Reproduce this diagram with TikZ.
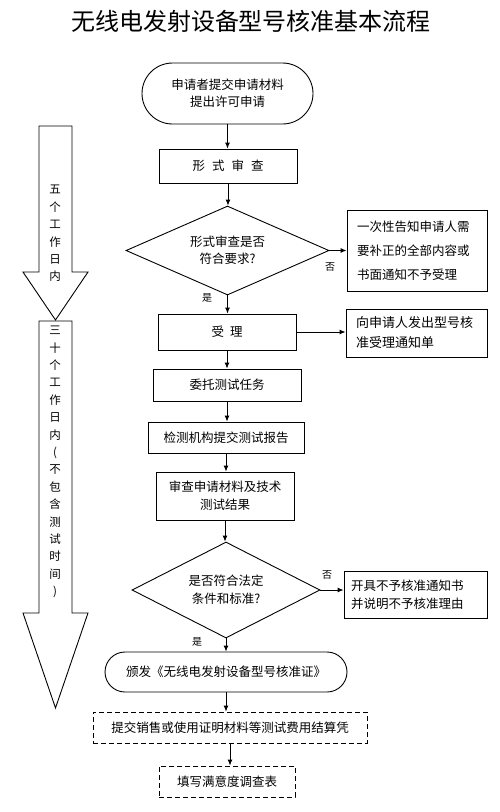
\documentclass[tikz,border=0pt]{standalone}
\usepackage{fontspec}
\setmainfont{Liberation Serif}
\newfontfamily\cjk{Noto Sans CJK SC}
\usetikzlibrary{arrows.meta,shapes.geometric,shapes.misc}
\begin{document}
\begin{tikzpicture}[x=1pt,y=-1pt,
  every node/.style={font=\cjk\fontsize{12.5}{17}\selectfont, inner sep=0pt},
  box/.style={draw, line width=0.9pt, rectangle, align=center},
  sidebox/.style={draw, line width=0.9pt, rectangle, align=left},
  decide/.style={draw, line width=0.9pt, diamond, align=center},
  term/.style={draw, line width=0.9pt, rounded rectangle, align=center},
  dbox/.style={draw, line width=0.9pt, dash pattern=on 5pt off 3pt, rectangle, align=center},
  flow/.style={line width=0.9pt, -{Latex[length=6pt,width=5pt]}},
  lbl/.style={font=\cjk\fontsize{10}{12}\selectfont},
  bigarrow/.style={draw, line width=0.9pt, fill=white},
  vtext/.style={align=center, font=\cjk\fontsize{11.5}{17.4}\selectfont}
]
\useasboundingbox (0,0) rectangle (500,812);
\fill[white] (0,0) rectangle (500,812);

% title
\node[font=\cjk\fontsize{24}{26}\selectfont] (title) at (251,21) {无线电发射设备型号核准基本流程};

% left arrows
\draw[bigarrow] (39,126) -- (72,126) -- (72,272) -- (88,272) -- (55.5,320) -- (23,272) -- (39,272) -- cycle;
\draw[bigarrow] (39,321) -- (72,321) -- (72,613) -- (88,613) -- (55.5,708) -- (23,613) -- (39,613) -- cycle;
\node[vtext] (five) at (55,233.5) {五\\个\\工\\作\\日\\内};
\node[vtext] (thirty) at (55,462) {三\\十\\个\\工\\作\\日\\内\\(\\不\\包\\含\\测\\试\\时\\间\\)};

% main flow
\node[term, minimum width=171pt, minimum height=61pt] (start) at (227.5,93.5) {申请者提交申请材料\\提出许可申请};
\node[box, minimum width=138pt, minimum height=34pt] (form) at (228,166) {形\hspace{7pt}式\hspace{7pt}审\hspace{7pt}查};
\node[decide, minimum width=203pt, minimum height=89pt, aspect=2.28] (d1) at (227.5,250.5) {形式审查是否\\符合要求?};
\node[sidebox, minimum width=140pt, minimum height=81pt, text width=120pt, font=\cjk\fontsize{12.5}{24}\selectfont] (r1) at (417,250.5) {一次性告知申请人需\\要补正的全部内容或\\书面通知不予受理};
\node[box, minimum width=138pt, minimum height=36pt] (accept) at (227,332) {受\hspace{6pt}理};
\node[sidebox, minimum width=141pt, minimum height=48pt, text width=121pt, font=\cjk\fontsize{13}{20}\selectfont] (r2) at (416.5,333) {向申请人发出型号核\\准受理通知单};
\node[box, minimum width=148pt, minimum height=32pt] (entrust) at (227,385) {委托测试任务};
\node[box, minimum width=156pt, minimum height=31pt] (report) at (226,437.5) {检测机构提交测试报告};
\node[box, minimum width=138pt, minimum height=48pt, font=\cjk\fontsize{12.5}{18}\selectfont] (review) at (225,496) {审查申请材料及技术\\测试结果};
\node[decide, minimum width=188pt, minimum height=96pt, aspect=1.96, font=\cjk\fontsize{12.5}{18}\selectfont] (d2) at (226,590) {是否符合法定\\条件和标准?};
\node[sidebox, minimum width=143pt, minimum height=47pt, text width=129pt, font=\cjk\fontsize{12.5}{18}\selectfont] (r3) at (415.5,594.5) {开具不予核准通知书\\并说明不予核准理由};
\node[term, minimum width=242pt, minimum height=40pt] (issue) at (226,672) {颁发《无线电发射设备型号核准证》};
\node[dbox, minimum width=274pt, minimum height=31pt] (submit) at (230,727.5) {提交销售或使用证明材料等测试费用结算凭};
\node[dbox, minimum width=136pt, minimum height=31pt] (survey) at (227,781.5) {填写满意度调查表};

% connectors
\draw[flow] (start.south) -- (start.south |- form.north);
\draw[flow] (form.south) -- (form.south |- d1.north);
\draw[flow] (d1.east) -- (d1.east -| r1.west);
\draw[flow] (d1.south) -- (d1.south |- accept.north);
\draw[flow] (accept.east) -- (accept.east -| r2.west);
\draw[flow] (accept.south) -- (accept.south |- entrust.north);
\draw[flow] (entrust.south) -- (entrust.south |- report.north);
\draw[flow] (report.south) -- (report.south |- review.north);
\draw[flow] (review.south) -- (review.south |- d2.north);
\draw[flow] (d2.east) -- (d2.east -| r3.west);
\draw[flow] (d2.south) -- (d2.south |- issue.north);
\draw[flow] (issue.south) -- (issue.south |- submit.north);
\draw[flow] (submit.south) -- (submit.south |- survey.north);

% labels
\node[lbl] (no1) at (330,267) {否};
\node[lbl] (yes1) at (207,298) {是};
\node[lbl] (no2) at (327,575) {否};
\node[lbl] (yes2) at (197,642) {是};
\end{tikzpicture}
\end{document}
